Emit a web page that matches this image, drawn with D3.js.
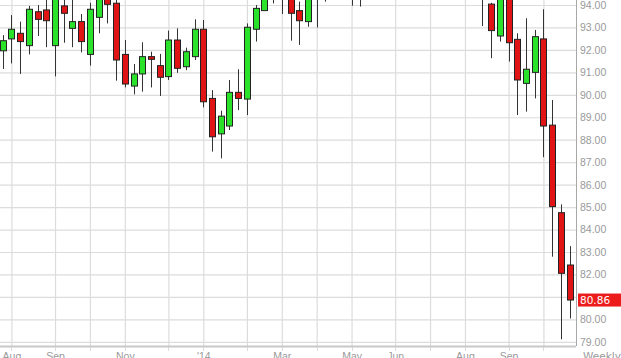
<!DOCTYPE html>
<html>
<head>
<meta charset="utf-8">
<script src="https://cdn.jsdelivr.net/npm/d3@7"></script>
<style>
  body { margin: 0; background: #fff; }
  svg { display: block; font-family: "DejaVu Sans", Verdana, sans-serif; }
</style>
</head>
<body>
<div id="container"></div>
<script>
// weekly candles, Fridays from 26 Jul 2013 to 24 Oct 2014
const opens = [91.96, 92.49, 92.74, 92.19, 93.70, 93.78, 92.19, 93.96, 92.96, 93.26,
  91.80, 93.45, 94.50, 94.08, 91.80, 90.39, 90.93, 91.70, 91.30, 90.81,
  92.44, 91.25, 91.70, 92.92, 89.84, 88.26, 88.61, 90.11, 89.81, 92.92,
  93.75, 94.80, 95.00, 94.50, 93.75, 93.26, 94.40, 95.00, 94.70, 95.20,
  95.00, 94.60, 95.10, 95.70, 96.20, 97.00, 97.50, 98.20, 97.60, 96.80,
  96.30, 96.90, 96.20, 95.30, 95.70, 94.90, 94.04, 92.62, 94.50, 92.47,
  90.51, 91.00, 92.49, 88.65, 84.75, 82.42];
const highs = [92.66, 93.55, 93.26, 93.96, 94.00, 94.40, 95.10, 94.50, 94.40, 93.60,
  94.10, 95.00, 94.90, 94.30, 92.44, 91.37, 92.34, 91.92, 91.82, 92.86,
  92.96, 92.10, 93.36, 93.33, 90.21, 89.29, 90.66, 91.14, 93.18, 94.00,
  95.00, 95.50, 95.40, 94.90, 94.15, 94.80, 95.30, 95.60, 95.50, 95.80,
  95.60, 95.40, 96.00, 96.50, 97.40, 98.00, 98.60, 99.00, 98.20, 97.40,
  97.20, 97.60, 96.80, 96.00, 96.20, 95.50, 94.10, 94.80, 94.90, 92.74,
  93.41, 92.89, 93.81, 89.77, 85.12, 83.26];
const lows = [91.15, 91.40, 90.93, 91.80, 92.62, 92.12, 90.82, 92.32, 92.12, 91.89,
  91.30, 92.74, 93.18, 90.63, 90.33, 90.02, 90.14, 90.33, 89.95, 90.66,
  90.98, 91.10, 91.55, 89.44, 87.47, 87.17, 88.43, 89.32, 89.10, 92.37,
  93.75, 94.07, 93.60, 92.41, 92.22, 93.03, 93.00, 94.15, 94.40, 94.50,
  93.97, 93.93, 94.60, 95.00, 95.80, 96.40, 97.00, 97.20, 96.40, 95.90,
  95.60, 96.00, 95.00, 94.60, 94.50, 93.06, 91.63, 92.37, 91.48, 89.10,
  89.25, 89.84, 87.22, 82.79, 79.11, 80.04];
const closes = [92.41, 92.92, 92.37, 93.81, 93.36, 93.30, 94.70, 93.63, 93.26, 92.37,
  93.81, 94.60, 94.03, 91.55, 90.48, 90.93, 91.70, 91.58, 90.78, 92.44,
  91.18, 91.92, 92.92, 89.69, 88.13, 89.05, 90.11, 89.84, 93.01, 93.85,
  94.60, 95.20, 94.60, 93.63, 93.30, 94.40, 95.00, 94.70, 95.20, 94.80,
  94.60, 95.10, 95.70, 96.20, 97.00, 97.50, 98.20, 97.60, 96.80, 96.30,
  96.90, 96.20, 95.30, 95.70, 94.90, 94.40, 92.86, 94.40, 92.32, 90.66,
  91.14, 92.59, 88.61, 85.02, 82.05, 80.86];

const monthTicks = ["2013-08-02", "2013-09-06", "2013-10-04", "2013-11-01", "2013-12-06",
  "2014-01-03", "2014-02-07", "2014-03-07", "2014-04-04", "2014-05-02",
  "2014-06-06", "2014-07-04", "2014-08-01", "2014-09-05", "2014-10-03"];
const monthLabels = ["Aug", "Sep", "", "Nov", "", "'14", "", "Mar", "", "May",
  "Jun", "", "Aug", "Sep", ""];
const priceTicks = [79, 80, 81, 82, 83, 84, 85, 86, 87, 88, 89, 90, 91, 92, 93, 94];
const lastPrice = 80.86;

const w = 621;
const h = 358;
const plotRight = 576;
const plotBottom = 346;

const parse = d3.timeParse("%Y-%m-%d");
const weeks = d3.timeFriday.range(new Date(2013, 6, 26), new Date(2014, 9, 25));
const data = weeks.map((d, i) => ({
  date: d, o: opens[i], h: highs[i], l: lows[i], c: closes[i]
}));

const svg = d3.select('#container')
  .append('svg')
  .attr('width', w)
  .attr('height', h);

const xScale = d3.scaleTime()
  .domain([weeks[0], weeks[weeks.length - 1]])
  .range([2.7, 569.6]);

const yScale = d3.scaleLinear()
  .domain([79, 94])
  .range([341.8, 5]);

const tagY = yScale(lastPrice);

// grid + price labels on the right (the tag hides the label it sits on)
const yAxis = d3.axisRight(yScale)
  .tickValues(priceTicks)
  .tickFormat(d => Math.abs(yScale(d) - tagY) < 10 ? "" : d3.format(".2f")(d))
  .tickSize(-plotRight)
  .tickPadding(4);

const gy = svg.append("g")
  .attr("transform", "translate(" + plotRight + ",0)")
  .call(yAxis);
gy.select(".domain").remove();
gy.selectAll(".tick line").attr("stroke", "#dcdcdc").attr("stroke-width", 1.2);
gy.selectAll(".tick text").attr("fill", "#9a9a9a").attr("font-size", 10.5);

const monthDates = monthTicks.map(parse);
const xAxis = d3.axisBottom(xScale)
  .tickValues(monthDates)
  .tickFormat((d, i) => monthLabels[i])
  .tickSizeInner(-plotBottom)
  .tickSizeOuter(0)
  .tickPadding(7);

const gx = svg.append("g")
  .attr("transform", "translate(0," + plotBottom + ")")
  .call(xAxis);
gx.select(".domain").remove();
gx.selectAll(".tick line").attr("stroke", "#dcdcdc").attr("stroke-width", 1.2);
gx.selectAll(".tick text").attr("fill", "#9a9a9a").attr("font-size", 10.5);

// small ticks under the bottom axis
svg.append("g").selectAll("line")
  .data(monthDates)
  .join("line")
  .attr("x1", d => Math.round(xScale(d)) + 0.5)
  .attr("x2", d => Math.round(xScale(d)) + 0.5)
  .attr("y1", plotBottom)
  .attr("y2", plotBottom + 5)
  .attr("stroke", "#dcdcdc");

// axis frame
svg.append("line")
  .attr("x1", 0).attr("x2", plotRight)
  .attr("y1", plotBottom + 0.5).attr("y2", plotBottom + 0.5)
  .attr("stroke", "#c8c8c8").attr("stroke-width", 2);
svg.append("line")
  .attr("x1", plotRight + 0.5).attr("x2", plotRight + 0.5)
  .attr("y1", 0).attr("y2", plotBottom)
  .attr("stroke", "#a8a8a8");

svg.append("text")
  .attr("x", 583)
  .attr("y", plotBottom + 7)
  .attr("dy", "0.71em")
  .attr("fill", "#9a9a9a")
  .attr("font-size", 10.5)
  .text("Weekly");

// candles
const candles = svg.append("g")
  .selectAll("g")
  .data(data)
  .join("g");

candles.append("line")
  .attr("x1", d => Math.round(xScale(d.date)) + 0.5)
  .attr("x2", d => Math.round(xScale(d.date)) + 0.5)
  .attr("y1", d => yScale(d.h))
  .attr("y2", d => yScale(d.l))
  .attr("stroke", "#333")
  .attr("stroke-width", 1);

candles.append("rect")
  .attr("x", d => Math.round(xScale(d.date)) - 2.5)
  .attr("width", 6)
  .attr("y", d => yScale(Math.max(d.o, d.c)))
  .attr("height", d => Math.max(1, Math.abs(yScale(d.o) - yScale(d.c))))
  .attr("fill", d => d.c >= d.o ? "#2be22b" : "#e01414")
  .attr("stroke", "#222")
  .attr("stroke-width", 1);

// last price tag
svg.append("rect")
  .attr("x", 578)
  .attr("y", tagY - 6.5)
  .attr("width", 43)
  .attr("height", 13)
  .attr("fill", "#ec1c1c");
svg.append("text")
  .attr("x", 580)
  .attr("y", tagY)
  .attr("dy", "0.35em")
  .attr("fill", "#fff")
  .attr("font-size", 10.5)
  .text(d3.format(".2f")(lastPrice));
</script>
</body>
</html>
